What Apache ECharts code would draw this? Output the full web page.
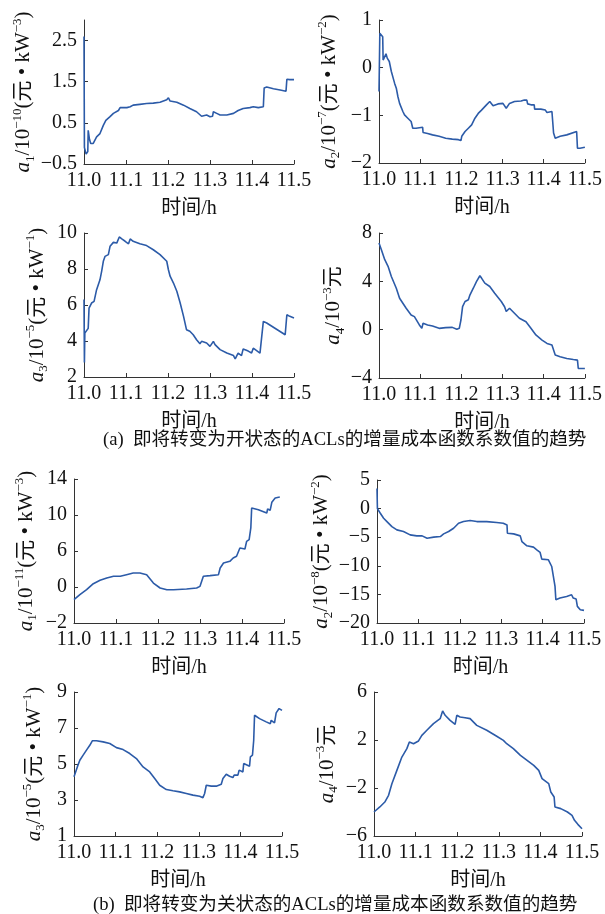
<!DOCTYPE html>
<html><head><meta charset="utf-8">
<script src="https://cdn.jsdelivr.net/npm/echarts@6/dist/echarts.min.js"></script>
<style>html,body{margin:0;padding:0;background:#fff}#c{width:605px;height:914px}</style>
</head><body><div id="c"></div>
<script>
// ---------------- DATA ----------------
const timeTicks = [11.0, 11.1, 11.2, 11.3, 11.4, 11.5];
const xAxisTitle = '时间/h';
const captionA = '(a)  即将转变为开状态的ACLs的增量成本函数系数值的趋势';
const captionB = '(b)  即将转变为关状态的ACLs的增量成本函数系数值的趋势';

// (a) ACLs about to switch ON
const onA1 = [[11.000,2.6],[11.001,-0.1],[11.005,-0.26],[11.009,-0.2],[11.010,0.32],[11.013,0.1],[11.016,0.0],[11.022,0.0],[11.030,0.16],[11.038,0.24],[11.046,0.44],[11.052,0.56],[11.062,0.65],[11.070,0.73],[11.082,0.80],[11.086,0.87],[11.102,0.87],[11.110,0.89],[11.117,0.93],[11.133,0.95],[11.149,0.97],[11.165,0.98],[11.181,1.00],[11.197,1.06],[11.201,1.11],[11.205,1.03],[11.221,1.00],[11.237,0.93],[11.252,0.85],[11.268,0.77],[11.280,0.66],[11.292,0.69],[11.300,0.65],[11.306,0.66],[11.308,0.77],[11.316,0.73],[11.324,0.69],[11.340,0.69],[11.356,0.73],[11.367,0.80],[11.379,0.85],[11.395,0.87],[11.403,0.89],[11.415,0.87],[11.427,0.89],[11.429,1.35],[11.435,1.37],[11.451,1.33],[11.467,1.30],[11.481,1.27],[11.483,1.56],[11.490,1.55],[11.500,1.55]];
const onA2 = [[11.000,-0.5],[11.002,0.72],[11.006,0.68],[11.009,0.65],[11.010,0.16],[11.014,0.20],[11.017,0.29],[11.020,0.20],[11.025,0.13],[11.030,-0.08],[11.038,-0.33],[11.042,-0.43],[11.046,-0.61],[11.050,-0.75],[11.058,-0.92],[11.062,-0.99],[11.070,-1.06],[11.078,-1.13],[11.082,-1.27],[11.090,-1.27],[11.106,-1.25],[11.107,-1.36],[11.118,-1.38],[11.130,-1.41],[11.146,-1.44],[11.162,-1.48],[11.178,-1.50],[11.193,-1.51],[11.199,-1.53],[11.201,-1.44],[11.209,-1.34],[11.217,-1.27],[11.225,-1.20],[11.233,-1.06],[11.241,-0.96],[11.249,-0.89],[11.261,-0.78],[11.269,-0.71],[11.277,-0.80],[11.289,-0.76],[11.301,-0.75],[11.309,-0.85],[11.317,-0.75],[11.329,-0.71],[11.345,-0.70],[11.353,-0.68],[11.359,-0.68],[11.361,-0.76],[11.369,-0.78],[11.377,-0.78],[11.378,-0.87],[11.393,-0.87],[11.404,-0.89],[11.408,-0.94],[11.420,-0.92],[11.424,-1.37],[11.428,-1.48],[11.440,-1.44],[11.456,-1.41],[11.480,-1.34],[11.482,-1.69],[11.488,-1.69],[11.500,-1.67]];
const onA3 = [[11.000,6.3],[11.001,2.8],[11.002,4.44],[11.006,4.35],[11.010,4.70],[11.012,5.83],[11.016,5.74],[11.018,6.11],[11.024,6.20],[11.030,6.85],[11.034,6.94],[11.038,7.40],[11.042,7.87],[11.046,8.43],[11.050,8.70],[11.058,8.80],[11.062,9.26],[11.070,9.48],[11.078,9.44],[11.084,9.78],[11.090,9.67],[11.098,9.54],[11.106,9.40],[11.110,9.67],[11.117,9.54],[11.133,9.40],[11.149,9.30],[11.165,9.07],[11.181,8.80],[11.197,8.43],[11.201,7.96],[11.205,7.60],[11.213,7.22],[11.221,6.76],[11.229,6.11],[11.237,5.37],[11.244,4.63],[11.252,4.54],[11.260,4.35],[11.268,4.07],[11.276,3.85],[11.280,3.98],[11.292,3.89],[11.300,3.70],[11.308,3.98],[11.312,3.80],[11.324,3.52],[11.340,3.33],[11.356,3.19],[11.360,3.00],[11.363,3.15],[11.367,3.33],[11.375,3.19],[11.379,3.56],[11.391,3.44],[11.399,3.33],[11.403,3.60],[11.419,3.33],[11.427,5.09],[11.435,5.00],[11.479,4.35],[11.483,5.46],[11.490,5.37],[11.500,5.28]];
const onA4 = [[11.000,7.17],[11.006,6.60],[11.014,5.79],[11.022,5.24],[11.030,4.40],[11.042,3.43],[11.050,2.60],[11.066,1.77],[11.078,1.22],[11.086,1.08],[11.098,0.39],[11.104,0.11],[11.107,0.53],[11.118,0.39],[11.130,0.30],[11.146,0.11],[11.162,0.17],[11.178,0.19],[11.189,0.03],[11.195,0.11],[11.199,0.80],[11.203,1.90],[11.209,2.33],[11.217,2.47],[11.221,2.88],[11.229,3.43],[11.237,4.00],[11.245,4.46],[11.249,4.27],[11.257,3.85],[11.269,3.57],[11.281,3.02],[11.297,2.33],[11.305,1.90],[11.309,1.50],[11.317,1.77],[11.329,1.36],[11.341,0.94],[11.357,0.66],[11.369,0.11],[11.381,-0.44],[11.396,-0.86],[11.408,-1.14],[11.420,-1.27],[11.428,-2.10],[11.440,-2.24],[11.456,-2.38],[11.472,-2.47],[11.482,-2.52],[11.484,-3.21],[11.500,-3.21]];

// (b) ACLs about to switch OFF
const offA1 = [[11.000,0.59],[11.014,1.15],[11.030,1.70],[11.046,2.37],[11.062,2.74],[11.078,3.00],[11.094,3.19],[11.110,3.19],[11.125,3.37],[11.141,3.56],[11.157,3.56],[11.173,3.37],[11.189,2.44],[11.205,1.89],[11.221,1.70],[11.237,1.70],[11.268,1.78],[11.292,1.89],[11.300,2.07],[11.308,3.19],[11.324,3.26],[11.344,3.37],[11.348,4.11],[11.356,4.67],[11.371,4.85],[11.379,5.22],[11.383,5.04],[11.387,5.41],[11.395,6.33],[11.407,6.22],[11.411,7.07],[11.417,7.26],[11.421,8.56],[11.423,10.78],[11.439,10.59],[11.459,10.22],[11.461,10.67],[11.467,10.52],[11.471,11.41],[11.479,11.89],[11.490,12.00]];
const offA2 = [[11.000,3.5],[11.001,0.0],[11.002,-0.12],[11.008,-0.81],[11.016,-1.69],[11.024,-2.27],[11.036,-3.14],[11.048,-3.72],[11.064,-4.01],[11.080,-4.59],[11.096,-4.77],[11.109,-4.77],[11.121,-5.17],[11.137,-4.99],[11.153,-4.88],[11.161,-4.42],[11.173,-4.01],[11.185,-3.43],[11.197,-2.56],[11.209,-2.27],[11.225,-2.09],[11.241,-2.27],[11.265,-2.27],[11.289,-2.44],[11.305,-2.56],[11.314,-2.85],[11.315,-4.30],[11.330,-4.42],[11.346,-4.77],[11.350,-5.76],[11.362,-6.51],[11.378,-6.74],[11.386,-7.21],[11.394,-7.67],[11.398,-8.84],[11.414,-8.95],[11.422,-10.12],[11.426,-11.86],[11.430,-13.60],[11.432,-15.93],[11.442,-15.64],[11.458,-15.35],[11.470,-15.06],[11.474,-15.64],[11.481,-15.81],[11.484,-17.09],[11.491,-17.67],[11.500,-17.79]];
const offA3 = [[11.000,4.29],[11.008,4.84],[11.014,5.21],[11.022,5.49],[11.030,5.77],[11.038,6.04],[11.044,6.29],[11.054,6.29],[11.070,6.23],[11.086,6.14],[11.102,5.91],[11.118,5.80],[11.134,5.58],[11.150,5.30],[11.166,4.84],[11.182,4.56],[11.194,4.19],[11.206,3.82],[11.222,3.58],[11.238,3.51],[11.254,3.45],[11.270,3.36],[11.286,3.27],[11.302,3.21],[11.310,3.13],[11.314,3.36],[11.318,3.82],[11.330,3.77],[11.342,3.77],[11.354,3.88],[11.358,4.19],[11.366,4.43],[11.374,4.32],[11.382,4.25],[11.385,4.38],[11.394,4.38],[11.397,4.66],[11.406,4.56],[11.408,5.03],[11.422,4.88],[11.424,5.40],[11.429,5.49],[11.432,6.32],[11.434,7.71],[11.446,7.52],[11.462,7.34],[11.472,7.24],[11.474,7.43],[11.482,7.28],[11.486,7.84],[11.493,8.08],[11.500,7.98]];
const offA4 = [[11.000,-4.00],[11.014,-3.58],[11.026,-3.17],[11.035,-2.61],[11.043,-1.64],[11.055,-0.53],[11.067,0.58],[11.079,1.28],[11.085,1.83],[11.095,1.69],[11.107,1.92],[11.115,2.39],[11.127,2.81],[11.143,3.36],[11.159,3.78],[11.165,4.42],[11.171,4.06],[11.183,3.64],[11.195,3.31],[11.199,4.06],[11.207,3.92],[11.219,3.86],[11.231,3.78],[11.247,3.22],[11.271,2.81],[11.295,2.31],[11.311,1.97],[11.319,1.69],[11.335,1.28],[11.352,0.72],[11.368,0.31],[11.384,-0.11],[11.396,-0.53],[11.404,-1.22],[11.420,-1.64],[11.425,-2.33],[11.433,-2.75],[11.435,-3.58],[11.449,-3.72],[11.465,-4.00],[11.476,-4.28],[11.482,-4.69],[11.490,-5.03],[11.500,-5.39]];

// y tick values and their printed labels
const onA1Ticks = [-0.5, 0.5, 1.5, 2.5];     const onA1Labels = ['−0.5','0.5','1.5','2.5'];
const onA2Ticks = [-2, -1, 0, 1];            const onA2Labels = ['−2','−1','0','1'];
const onA3Ticks = [2, 4, 6, 8, 10];          const onA3Labels = ['2','4','6','8','10'];
const onA4Ticks = [-4, 0, 4, 8];             const onA4Labels = ['−4','0','4','8'];
const offA1Ticks = [-2, 2, 6, 10, 14];       const offA1Labels = ['−2','0','6','10','14'];
const offA2Ticks = [-20, -15, -10, -5, 0, 5]; const offA2Labels = ['−20','−15','−10','−5','0','5'];
const offA3Ticks = [1, 3, 5, 7, 9];          const offA3Labels = ['1','3','5','7','9'];
const offA4Ticks = [-6, -2, 2, 6];           const offA4Labels = ['−6','−2','2','6'];

// y-axis titles (rich text): [index, exponent, unit power or null]
const onA1Name = ['1', '−10', '−3'];
const onA2Name = ['2', '−7', '−2'];
const onA3Name = ['3', '−5', '−1'];
const onA4Name = ['4', '−3', null];
const offA1Name = ['1', '−11', '−3'];
const offA2Name = ['2', '−8', '−2'];
const offA3Name = ['3', '−5', '−1'];
const offA4Name = ['4', '−3', null];

// ---------------- LAYOUT / STYLE ----------------
const FONT = '"Liberation Serif", "Times New Roman", "Noto Sans CJK SC", serif';
const LINE = '#2c5ba8';
const AX = '#333';

const panels = [
  {data: onA1, ticks: onA1Ticks, labels: onA1Labels, name: onA1Name, min: -0.5, max: 3, grid: {left: 84, top: 20, width: 210, height: 144}, gap: 44},
  {data: onA2, ticks: onA2Ticks, labels: onA2Labels, name: onA2Name, min: -2, max: 1, grid: {left: 379, top: 20, width: 209, height: 143}, gap: 37},
  {data: onA3, ticks: onA3Ticks, labels: onA3Labels, name: onA3Name, min: 2, max: 10, grid: {left: 84, top: 233, width: 210, height: 144}, gap: 34},
  {data: onA4, ticks: onA4Ticks, labels: onA4Labels, name: onA4Name, min: -4, max: 8, grid: {left: 379, top: 233, width: 209, height: 145}, gap: 29},
  {data: offA1, ticks: offA1Ticks, labels: offA1Labels, name: offA1Name, min: -2, max: 14, grid: {left: 74, top: 479, width: 210, height: 144}, gap: 35},
  {data: offA2, ticks: offA2Ticks, labels: offA2Labels, name: offA2Name, min: -20, max: 5, grid: {left: 377, top: 480, width: 207, height: 143}, gap: 37},
  {data: offA3, ticks: offA3Ticks, labels: offA3Labels, name: offA3Name, min: 1, max: 9, grid: {left: 74, top: 692, width: 208, height: 144}, gap: 27},
  {data: offA4, ticks: offA4Ticks, labels: offA4Labels, name: offA4Name, min: -6, max: 6, grid: {left: 374, top: 692, width: 208, height: 144}, gap: 34}
];

function richName(n) {
  let s = '{i|a}{sub|' + n[0] + '}{n|/10}{sup|' + n[1] + '}';
  if (n[2]) s += '{n|(元 • kW}{sup|' + n[2] + '}{n|)}';
  else s += '{n|元}';
  return s;
}
const richStyles = {
  i: {fontFamily: FONT, fontStyle: 'italic', fontSize: 21, color: '#111', lineHeight: 26, verticalAlign: 'middle'},
  n: {fontFamily: FONT, fontSize: 21, color: '#111', lineHeight: 26, verticalAlign: 'middle'},
  sup: {fontFamily: FONT, fontSize: 13, color: '#111', lineHeight: 26, verticalAlign: 'top'},
  sub: {fontFamily: FONT, fontSize: 13, color: '#111', lineHeight: 26, verticalAlign: 'bottom'}
};

const grids = [], xAxes = [], yAxes = [], series = [];
panels.forEach((p, k) => {
  grids.push(Object.assign({containLabel: false}, p.grid));
  xAxes.push({
    type: 'value', gridIndex: k, min: timeTicks[0], max: timeTicks[timeTicks.length - 1],
    splitLine: {show: false},
    axisLine: {show: true, onZero: false, lineStyle: {color: AX, width: 1}},
    axisTick: {show: true, inside: true, length: 4, customValues: timeTicks, lineStyle: {color: AX}},
    axisLabel: {customValues: timeTicks, formatter: v => v.toFixed(1), fontFamily: FONT, fontSize: 20, color: '#111', margin: 7},
    name: xAxisTitle, nameLocation: 'middle', nameGap: 35,
    nameTextStyle: {fontFamily: FONT, fontSize: 20, color: '#111'}
  });
  yAxes.push({
    type: 'value', gridIndex: k, min: p.min, max: p.max,
    splitLine: {show: false},
    axisLine: {show: true, onZero: false, lineStyle: {color: AX, width: 1}},
    axisTick: {show: true, inside: true, length: 4, customValues: p.ticks, lineStyle: {color: AX}},
    axisLabel: {customValues: p.ticks, formatter: v => { const i = p.ticks.findIndex(t => Math.abs(t - v) < 1e-9); return i >= 0 ? p.labels[i] : ''; },
      fontFamily: FONT, fontSize: 20, color: '#111', margin: 7},
    name: richName(p.name), nameLocation: 'middle', nameRotate: 90, nameGap: p.gap,
    nameTextStyle: {rich: richStyles}
  });
  series.push({
    type: 'line', xAxisIndex: k, yAxisIndex: k, data: p.data,
    showSymbol: false, symbol: 'none', animation: false,
    lineStyle: {color: LINE, width: 1.6}, itemStyle: {color: LINE}
  });
});

const chart = echarts.init(document.getElementById('c'), null, {renderer: 'canvas'});
chart.setOption({
  backgroundColor: '#fff',
  animation: false,
  grid: grids, xAxis: xAxes, yAxis: yAxes, series: series,
  graphic: [
    {type: 'text', left: 103, top: 431, style: {text: captionA, font: '18.6px ' + FONT, fill: '#111'}},
    {type: 'text', left: 93, top: 896, style: {text: captionB, font: '18.6px ' + FONT, fill: '#111'}}
  ]
});
</script></body></html>
